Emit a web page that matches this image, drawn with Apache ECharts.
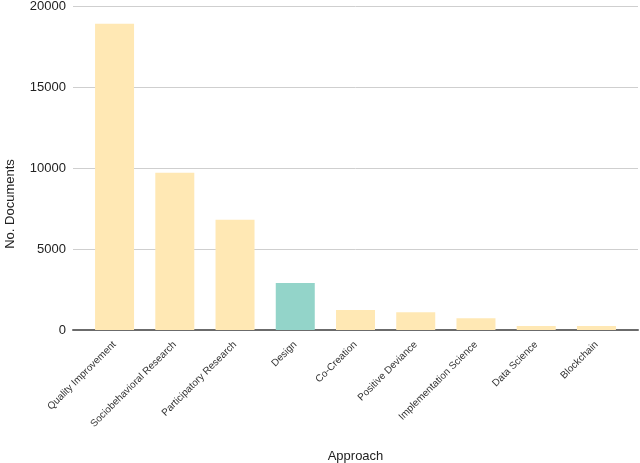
<!DOCTYPE html>
<html>
<head>
<meta charset="utf-8">
<script src="https://cdn.jsdelivr.net/npm/echarts@6/dist/echarts.min.js"></script>
<style>html,body{margin:0;padding:0;background:#fff}#c{width:640px;height:463px}</style>
</head>
<body>
<div id="c"></div>
<script>
const categories = ["Quality Improvement","Sociobehavioral Research","Participatory Research","Design","Co-Creation","Positive Deviance","Implementation Science","Data Science","Blockchain"];
const values = [18900, 9700, 6800, 2900, 1230, 1100, 720, 250, 240];
const highlight = "Design";
const yTicks = [0, 5000, 10000, 15000, 20000];

const chart = echarts.init(document.getElementById('c'), null, {renderer: 'canvas'});
const idx = categories.map((_, i) => i);
chart.setOption({
  animation: false,
  grid: {left: 73, right: 2, top: 6, bottom: 133, containLabel: false, outerBoundsMode: 'none'},
  xAxis: {
    type: 'value',
    min: -0.69, max: 8.69,
    splitLine: {show: false},
    axisLine: {show: true, onZero: true, lineStyle: {color: '#6b6b6b', width: 2}},
    axisTick: {show: false},
    axisLabel: {
      customValues: idx,
      rotate: 45, fontSize: 10, color: '#333', fontFamily: 'Liberation Sans, Arial, sans-serif',
      margin: 13,
      formatter: v => categories[Math.round(v)]
    },
    name: 'Approach', nameLocation: 'middle', nameGap: 120,
    nameTextStyle: {fontSize: 13, color: '#222', fontFamily: 'Liberation Sans, Arial, sans-serif'}
  },
  yAxis: {
    type: 'value', min: yTicks[0], max: yTicks[yTicks.length - 1], interval: yTicks[1] - yTicks[0],
    axisLine: {show: false}, axisTick: {show: false},
    splitLine: {lineStyle: {color: '#cfcfcf', width: 1}},
    axisLabel: {fontSize: 13, color: '#222', margin: 7, fontFamily: 'Liberation Sans, Arial, sans-serif', formatter: v => String(v)}
  },
  graphic: [{
    type: 'text', x: 10, y: 204, rotation: Math.PI / 2,
    style: {text: 'No. Documents', fontSize: 13, fill: '#222', textAlign: 'center', textVerticalAlign: 'middle', fontFamily: 'Liberation Sans, Arial, sans-serif'}
  }],
  series: [{
    type: 'bar',
    barWidth: 39,
    data: values.map((v, i) => ({value: [i, v], itemStyle: {color: categories[i] === highlight ? '#93d4c9' : '#ffe8b4'}})),
    z: 1
  }]
});
</script>
</body>
</html>
